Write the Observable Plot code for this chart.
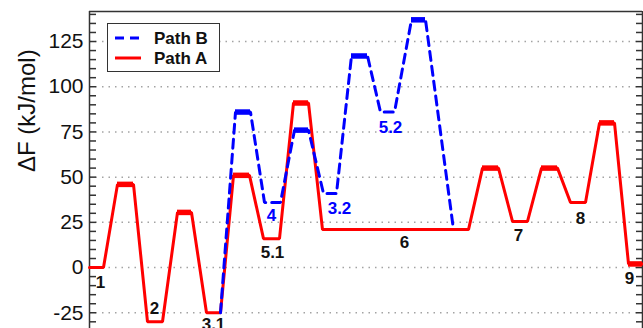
<!DOCTYPE html>
<html><head><meta charset="utf-8">
<script src="https://cdn.jsdelivr.net/npm/d3@7"></script>
<script src="https://cdn.jsdelivr.net/npm/@observablehq/plot@0.6"></script>
<style>
body{margin:0;background:#fff}
#wrap{position:relative;width:643px;height:328px;font-family:"Liberation Sans",Arial,sans-serif;overflow:hidden}
#legend{position:absolute;left:107px;top:23px;width:113px;height:49px;border:1.5px solid #333;background:#fff;box-sizing:border-box}
#legend svg{position:absolute;left:0;top:0}
</style></head><body><div id="wrap"><div id="chart"></div><div id="legend"></div></div>
<script>
// Path A: states (minima and transition states), x extent along the reaction coordinate, free energy
const aX1 = [0, 28, 58, 88, 117, 144, 174, 204, 233, 393, 423, 452, 481, 510, 539];
const aX2 = [14, 44, 73, 102, 131, 160, 190, 219, 379, 409, 438, 468, 496, 525, 553];
const aF  = [0, 46, -30, 30.5, -25, 51, 16, 91, 21, 55, 25.5, 55, 36, 80, 2];
const aTS = [0, 1, 0, 1, 0, 1, 0, 1, 0, 1, 0, 1, 0, 1, 1];
// Path B: branches off from state 3.1 and rejoins at state 6
const bX1 = [131, 146, 175, 205, 234, 262, 291, 322, 364];
const bX2 = [131, 161, 191, 219, 247, 278, 305, 336, 364];
const bF  = [-25, 86, 36, 76, 41, 117, 86, 137, 21];
const bTS = [0, 1, 0, 1, 0, 1, 0, 1, 0];
// State labels
const aLabels = ["1", "2", "3.1", "5.1", "6", "7", "8", "9"];
const aLabelX = [11, 65, 124, 183, 315, 429, 491, 540];
const aLabelF = [-8.3, -22.7, -31.5, 8.3, 13.8, 17.7, 27.1, -6.1];
const bLabels = ["4", "3.2", "5.2"];
const bLabelX = [182, 250, 301];
const bLabelF = [28.8, 32.6, 77.4];
// Axis
const majorTicks = [-25, 0, 25, 50, 75, 100, 125];
const minorTicks = d3.range(-30, 141, 5);
const yLabel = "ΔF (kJ/mol)";
const seriesNames = ["Path B", "Path A"];

const xDomain = [0, 553];
const yDomain = [-33.7, 141.6];

const aPts = aF.flatMap((f, i) => [{x: aX1[i], F: f}, {x: aX2[i], F: f}]);
const bPts = bF.flatMap((f, i) => [{x: bX1[i], F: f}, {x: bX2[i], F: f}]);
const aBars = aF.map((f, i) => ({x1: aX1[i], x2: aX2[i], F: f})).filter((d, i) => aTS[i]);
const bBars = bF.map((f, i) => ({x1: bX1[i], x2: bX2[i], F: f})).filter((d, i) => bTS[i]);
const aLab = aLabels.map((t, i) => ({t, x: aLabelX[i], F: aLabelF[i]}));
const bLab = bLabels.map((t, i) => ({t, x: bLabelX[i], F: bLabelF[i]}));

const RED = "#ff0000", BLUE = "#0000ff", AX = "#333";
const font = "'Liberation Sans', Arial, sans-serif";

const chart = Plot.plot({
  width: 643, height: 328,
  marginLeft: 89, marginRight: 1, marginTop: 11, marginBottom: 0,
  x: {domain: xDomain, axis: null},
  y: {domain: yDomain, axis: null},
  style: {fontFamily: font, background: "transparent", overflow: "visible"},
  marks: [
    Plot.gridY(majorTicks, {stroke: "#999", strokeOpacity: 0.9, strokeWidth: 1.5, strokeDasharray: "1.5,5"}),
    Plot.axisY({anchor: "left", ticks: minorTicks, tickSize: -7, text: null, label: null, stroke: AX, strokeWidth: 1.5}),
    Plot.axisY({anchor: "right", ticks: minorTicks, tickSize: -7, text: null, label: null, stroke: AX, strokeWidth: 1.5}),
    Plot.axisY({anchor: "left", ticks: majorTicks, tickSize: 0, tickPadding: 6, fontSize: 21, fill: "#111", tickFormat: d => String(d), label: null}),
    Plot.text([yLabel], {frameAnchor: "left", rotate: -90, dx: -62, dy: 2, fontSize: 24, fill: "#111"}),
    Plot.ruleX(xDomain, {y1: yDomain[0], y2: yDomain[1], stroke: AX, strokeWidth: 1.5}),
    Plot.ruleY([yDomain[1]], {x1: xDomain[0], x2: xDomain[1], stroke: AX, strokeWidth: 1.5}),
    Plot.line(aPts, {x: "x", y: "F", stroke: RED, strokeWidth: 3, strokeLinejoin: "miter"}),
    Plot.line(bPts, {x: "x", y: "F", stroke: BLUE, strokeWidth: 3, strokeDasharray: "9,6", strokeLinejoin: "miter"}),
    Plot.ruleY(aBars, {x1: "x1", x2: "x2", y: "F", stroke: RED, strokeWidth: 5.5}),
    Plot.ruleY(bBars, {x1: "x1", x2: "x2", y: "F", stroke: BLUE, strokeWidth: 5.5}),
    Plot.text(aLab, {x: "x", y: "F", text: "t", fontSize: 17, fontWeight: "bold", fill: "#111"}),
    Plot.text(bLab, {x: "x", y: "F", text: "t", fontSize: 17, fontWeight: "bold", fill: BLUE})
  ]
});
document.getElementById("chart").appendChild(chart);

// legend overlay
const leg = d3.select("#legend").append("svg").attr("width", 113).attr("height", 49);
const legColors = [BLUE, RED];
const legDash = ["9,6", null];
seriesNames.forEach((name, i) => {
  const y = 14 + i * 20;
  leg.append("line").attr("x1", 7).attr("x2", 33).attr("y1", y).attr("y2", y)
    .attr("stroke", legColors[i]).attr("stroke-width", 3).attr("stroke-dasharray", legDash[i]);
  leg.append("text").attr("x", 46).attr("y", y).attr("dy", "0.35em")
    .attr("font-family", font).attr("font-size", 17).attr("font-weight", "bold").attr("fill", "#111").text(name);
});
</script></body></html>
